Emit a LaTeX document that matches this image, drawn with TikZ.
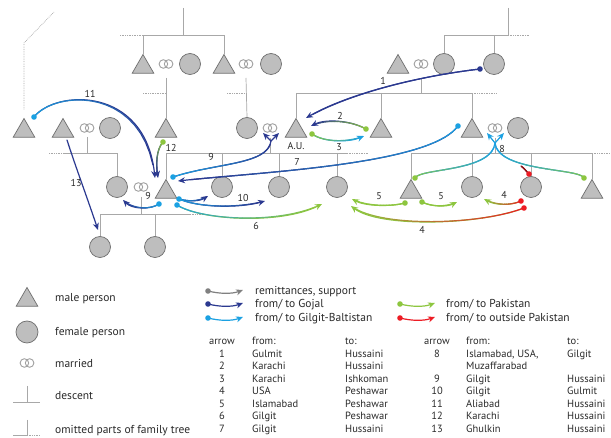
\documentclass[tikz,border=0pt]{standalone}
\usepackage{fontspec}
\setmainfont{PT Sans}
\usetikzlibrary{shapes.geometric,arrows.meta,calc}
\definecolor{gojal}{HTML}{2B3990}
\definecolor{gb}{HTML}{1BA1E2}
\definecolor{pak}{HTML}{8DC63F}
\definecolor{outp}{HTML}{ED1C24}
\definecolor{remit}{HTML}{808080}
\definecolor{nodefill}{HTML}{BEBEBE}
\definecolor{nodedraw}{HTML}{6E6E6E}
\definecolor{treeline}{HTML}{A8A8A8}
\definecolor{ringcol}{HTML}{A0A0A0}
\definecolor{labcol}{HTML}{2A2A2A}
\tikzset{
  male/.style={regular polygon, regular polygon sides=3, minimum size=25pt, inner sep=0pt, fill=nodefill, draw=nodedraw, line width=0.7pt},
  female/.style={circle, minimum size=21pt, inner sep=0pt, fill=nodefill, draw=nodedraw, line width=0.7pt},
  marriage/.style={inner sep=0pt, minimum width=14pt, minimum height=9pt},
  ring/.style={draw=ringcol, line width=0.9pt},
  tree/.style={draw=treeline, line width=0.7pt},
  omit/.style={draw=treeline, line width=0.7pt, densely dotted},
  arr/.style={line width=1.2pt, line cap=round},
  tip/.style={-{Stealth[length=7pt,width=6pt,inset=2.2pt]}},
  lab/.style={font=\fontsize{10}{11}\selectfont, text=labcol, inner sep=0pt},
  legtxt/.style={font=\fontsize{11.5}{13}\selectfont, text=labcol, inner sep=0pt, anchor=base west},
  tabtxt/.style={font=\fontsize{10.5}{12}\selectfont, text=labcol, inner sep=0pt, anchor=base west},
  tabnum/.style={font=\fontsize{10.5}{12}\selectfont, text=labcol, inner sep=0pt, anchor=base},
}
\newcommand\gcurve[7][]{%
  \draw[arr,#7,#1] (#2) .. controls (#3) and (#4) .. (#5);
  \foreach \gi in {0,...,18}{%
    \pgfmathsetmacro\gta{\gi/20}%
    \pgfmathsetmacro\gtb{(\gi+1)/20}%
    \pgfmathtruncatemacro\gpc{100-\gi*100/18}%
    \path (#2) .. controls (#3) and (#4) .. (#5) coordinate[pos=\gta] (gA) coordinate[pos=\gtb] (gB);
    \draw[arr,#6!\gpc!#7] (gA) -- (gB);
  }%
}
\newcommand\sdot[2]{\fill[#2] (#1) circle[radius=2.8pt];}
\begin{document}
\begin{tikzpicture}[x=1pt,y=-1pt]
\fill[white] (0,0) rectangle (611,438);
\useasboundingbox (0,0) rectangle (611,438);

% ---------- persons ----------
\node[male] (m01) at (143,67) {};
\node[marriage] (mr01) at (166,64) {};
\node[female] (f01) at (190,64) {};
\node[male] (m02) at (224,67) {};
\node[marriage] (mr02) at (246,64) {};
\node[female] (f02) at (271,64) {};
\node[male] (m03) at (398,67) {};
\node[marriage] (mr03) at (421,64) {};
\node[female] (f03) at (444,64) {};
\node[female] (f04) at (494,64) {};

\node[male] (m11) at (24,131) {};
\node[male] (m12) at (63,131) {};
\node[marriage] (mr11) at (87,128) {};
\node[female] (f11) at (110,128) {};
\node[male] (m13) at (166,131) {};
\node[female] (f12) at (247,128) {};
\node[marriage] (mr12) at (270,128) {};
\node[male] (au) at (296,131) {};
\node[lab] (aulab) at (296,146) {A.U.};
\node[male] (m14) at (381,131) {};
\node[male] (m15) at (472,131) {};
\node[marriage] (mr13) at (495,128) {};
\node[female] (f13) at (518,128) {};

\node[female] (f21) at (117,187) {};
\node[marriage] (mr21) at (141,187) {};
\node[male] (m21) at (166,192) {};
\node[female] (f22) at (222,187) {};
\node[female] (f23) at (279,187) {};
\node[female] (f24) at (337,187) {};
\node[male] (m22) at (411,192) {};
\node[female] (f25) at (472,187) {};
\node[female] (f26) at (531,187) {};
\node[male] (m23) at (592,192) {};

\node[female] (f31) at (100,247) {};
\node[female] (f32) at (155,247) {};

\foreach \m in {mr01,mr02,mr03,mr11,mr12,mr13,mr21}{
  \draw[ring] ($(\m)+(-2.6,0)$) circle[radius=4.3pt] ($(\m)+(2.6,0)$) circle[radius=4.3pt];
}

% ---------- family tree lines ----------
\draw[tree] (183,8) -- (183,35);
\draw[tree] (m01.north) -- (143,35) -- (224,35) -- (m02.north);
\draw[omit] (120,35) -- (143,35);
\draw[tree] (508,8) -- (508,35) -- (444,35) -- (f03.north);
\draw[tree] (494,35) -- (f04.north);
\draw[omit] (508,35) -- (530,35);

\draw[tree] ($(mr01)+(0,14)$) -- (m13.north);
\draw[omit] (143,93) -- (166,93);
\draw[tree] ($(mr02)+(0,14)$) -- (f12.north);
\draw[omit] (227,93) -- (246,93);
\draw[tree] ($(mr03)+(0,15)$) -- (421,93);
\draw[tree] (au.north) -- (296,93) -- (472,93) -- (m15.north);
\draw[tree] (381,93) -- (m14.north);
\draw[omit] (472,93) -- (497,93);
\draw[omit] (54,12) -- (24,43) -- (24,110);

\draw[tree] ($(mr11)+(0,9)$) -- (87,153);
\draw[tree] (63,153) -- (117,153) -- (f21.north);
\draw[omit] (49,153) -- (63,153);
\draw[tree] ($(mr12)+(0,10)$) -- (270,153);
\draw[tree] (m21.north) -- (166,153) -- (347,153);
\draw[tree] (222,153) -- (f22.north);
\draw[tree] (279,153) -- (f23.north);
\draw[tree] (337,153) -- (f24.north);
\draw[omit] (347,153) -- (368,153);
\draw[tree] ($(mr13)+(0,10)$) -- (495,153);
\draw[tree] (m22.north) -- (411,153) -- (592,153) -- (m23.north);
\draw[tree] (472,153) -- (f25.north);
\draw[tree] (531,153) -- (f26.north);
\draw[omit] (592,153) -- (610,153);

\draw[tree] ($(mr21)+(0,10)$) -- (141,214);
\draw[tree] (f31.north) -- (100,214) -- (190,214);
\draw[tree] (155,214) -- (f32.north);
\draw[omit] (190,214) -- (205,214);

% ---------- arrows ----------
% 1
\coordinate (a1s) at (480,69); \coordinate (a1e) at (306,118);
\gcurve[tip]{a1s}{420,76}{350,93}{a1e}{gojal}{gojal}\sdot{a1s}{gojal}
\node[lab] (l1) at (383,81) {1};
% 2
\coordinate (a2s) at (366,129); \coordinate (a2e) at (311,126);
\gcurve[tip]{a2s}{350,120}{325,119}{a2e}{pak}{gojal}\sdot{a2s}{pak}
\node[lab] (l2) at (340,116) {2};
% 3
\coordinate (a3s) at (312,134); \coordinate (a3e) at (364,136);
\gcurve[tip]{a3s}{325,143}{350,142}{a3e}{pak}{gb}\sdot{a3s}{pak}
\node[lab] (l3) at (339,147) {3};
% 7
\coordinate (a7s) at (458,126); \coordinate (a7e) at (178,181);
\gcurve[tip]{a7s}{430,165}{260,172}{a7e}{gb}{gojal}\sdot{a7s}{gb}
\node[lab] (l7) at (297,162) {7};
% 9 upper (to both parents)
\coordinate (a9s) at (173,177); \coordinate (a9f) at (271,141);
\coordinate (a9h1) at (263,133); \coordinate (a9h2) at (279,133);
\gcurve{a9s}{215,163}{268,165}{a9f}{gb}{gojal}\sdot{a9s}{gb}
\draw[arr,tip,gojal] (a9f) -- (a9h1);
\draw[arr,tip,gojal] (a9f) -- (a9h2);
\node[lab] (l9a) at (211,157) {9};
% 9 lower
\coordinate (a9bs) at (159,204); \coordinate (a9be) at (123,200);
\gcurve[tip]{a9bs}{150,210}{132,209}{a9be}{gb}{gojal}\sdot{a9bs}{gb}
\node[lab] (l9b) at (148,196) {9};
% 10
\coordinate (a10s) at (179,199); \coordinate (a10e1) at (208,196); \coordinate (a10e2) at (265,201);
\gcurve[tip]{a10s}{190,202}{200,201}{a10e1}{gb}{gojal}
\gcurve[tip]{a10s}{200,208}{240,208}{a10e2}{gb}{gojal}\sdot{a10s}{gb}
\node[lab] (l10) at (243,198) {10};
% 6
\coordinate (a6s) at (177,205); \coordinate (a6e) at (322,204);
\gcurve[tip]{a6s}{200,220}{280,225}{a6e}{gb}{pak}\sdot{a6s}{gb}
\node[lab] (l6) at (256,226) {6};
% 11
\coordinate (a11s) at (34,117); \coordinate (a11e) at (155,178);
\gcurve[tip]{a11s}{55,90}{145,85}{a11e}{gb}{gojal}\sdot{a11s}{gb}
\node[lab] (l11) at (90,94) {11};
% 12
\coordinate (a12s) at (163,142); \coordinate (a12e) at (158,178);
\gcurve[tip]{a12s}{156,150}{156,165}{a12e}{pak}{gojal}\sdot{a12s}{pak}
\node[lab] (l12) at (171,148) {12};
% 13
\coordinate (a13s) at (67,140); \coordinate (a13e) at (98,230);
\draw[arr,tip,gojal] (a13s) .. controls (75,165) and (88,200) .. (a13e);
\node[lab] (l13) at (76,183) {13};
% 5
\coordinate (a5s) at (405,203); \coordinate (a5e) at (352,199);
\gcurve[tip]{a5s}{390,207}{365,206}{a5e}{pak}{pak}\sdot{a5s}{pak}
\node[lab] (l5a) at (379,196) {5};
\coordinate (a5bs) at (422,202); \coordinate (a5be) at (457,202);
\gcurve[tip]{a5bs}{432,207}{447,207}{a5be}{pak}{pak}\sdot{a5bs}{pak}
\node[lab] (l5b) at (441,196) {5};
% 4
\coordinate (a4s) at (521,201); \coordinate (a4e) at (484,199);
\gcurve[tip]{a4s}{510,206}{495,205}{a4e}{outp}{pak}\sdot{a4s}{outp}
\node[lab] (l4a) at (504,195) {4};
\coordinate (a4bs) at (524,208); \coordinate (a4be) at (351,206);
\gcurve[tip]{a4bs}{480,225}{380,228}{a4be}{outp}{pak}\sdot{a4bs}{outp}
\node[lab] (l4b) at (422,230) {4};
% 8
\coordinate (a8f) at (495,143);
\coordinate (a8h1) at (487,133); \coordinate (a8h2) at (504,133);
\coordinate (a8s1) at (415,178); \coordinate (a8s2) at (584,178); \coordinate (a8s3) at (529,174); \coordinate (a8m) at (521,166);
\gcurve{a8s3}{526,171}{524,168}{a8m}{outp}{outp!60!black}
\gcurve{a8s1}{420,168}{492,172}{a8f}{pak}{gb}
\gcurve{a8s2}{580,168}{498,172}{a8f}{pak}{gb}
\sdot{a8s1}{pak}\sdot{a8s2}{pak}\sdot{a8s3}{outp}
\draw[arr,tip,gb] (a8f) -- (a8h1);
\draw[arr,tip,gb] (a8f) -- (a8h2);
\node[lab] (l8) at (502,149) {8};

% ---------- legend ----------
\node[male] (lgm) at (27,300) {};
\node[legtxt] (lgmt) at (55,302) {male person};
\node[female,minimum size=22pt] (lgf) at (27,332) {};
\node[legtxt] (lgft) at (55,336) {female person};
\node[marriage] (lgr) at (27,363) {};
\draw[ring] ($(lgr)+(-2.6,0)$) circle[radius=4.3pt] ($(lgr)+(2.6,0)$) circle[radius=4.3pt];
\node[legtxt] (lgrt) at (55,367.5) {married};
\coordinate (lgd) at (27,402);
\draw[tree] (13,402) -- (40,402);
\draw[tree] (27,386) -- (lgd);
\node[legtxt] (lgdt) at (55,400) {descent};
\coordinate (lgo) at (27,435);
\draw[tree] (27,420) -- (lgo) -- (13,435);
\draw[omit] (lgo) -- (40,435);
\node[legtxt] (lgot) at (55,434) {omitted parts of family tree};

\foreach \c/\y/\t/\xs/\xt [count=\k] in {remit/291/{remittances, support}/208/255, gojal/304/{from/ to Gojal}/208/255, gb/318/{from/ to Gilgit-Baltistan}/208/255, pak/304/{from/ to Pakistan}/400/446, outp/318/{from/ to outside Pakistan}/400/446}{
  \coordinate (la\k s) at (\xs,\y);
  \coordinate (la\k e) at (\xs+35,\y-1);
  \draw[arr,tip,\c] (la\k s) .. controls (\xs+12,\y+3) and (\xs+24,\y+3) .. (la\k e);
  \sdot{la\k s}{\c}
  \node[legtxt] (lat\k) at (\xt,\y+4) {\t};
}

% ---------- table ----------
\node[tabnum] (th1) at (222,345) {arrow};
\node[tabtxt] (th2) at (252,345) {from:};
\node[tabtxt] (th3) at (345,345) {to:};
\foreach \n/\f/\t [count=\k] in {1/Gulmit/Hussaini, 2/Karachi/Hussaini, 3/Karachi/Ishkoman, 4/USA/Peshawar, 5/Islamabad/Peshawar, 6/Gilgit/Peshawar, 7/Gilgit/Hussaini}{
  \node[tabnum] (tn\k) at (222,345+12.43*\k) {\n};
  \node[tabtxt] (tf\k) at (252,345+12.43*\k) {\f};
  \node[tabtxt] (tt\k) at (345,345+12.43*\k) {\t};
}
\node[tabnum] (rh1) at (437,345) {arrow};
\node[tabtxt] (rh2) at (466,345) {from:};
\node[tabtxt] (rh3) at (567,345) {to:};
\node[tabnum] (rn8) at (437,357.4) {8};
\node[tabtxt] (rf8) at (466,357.4) {Islamabad, USA,};
\node[tabtxt] (rt8) at (567,357.4) {Gilgit};
\node[tabtxt] (rf8b) at (466,369.9) {Muzaffarabad};
\foreach \n/\f/\t [count=\k from 3] in {9/Gilgit/Hussaini, 10/Gilgit/Gulmit, 11/Aliabad/Hussaini, 12/Karachi/Hussaini, 13/Ghulkin/Hussaini}{
  \node[tabnum] (rn\n) at (437,345+12.43*\k) {\n};
  \node[tabtxt] (rf\n) at (466,345+12.43*\k) {\f};
  \node[tabtxt] (rt\n) at (567,345+12.43*\k) {\t};
}
\end{tikzpicture}
\end{document}
